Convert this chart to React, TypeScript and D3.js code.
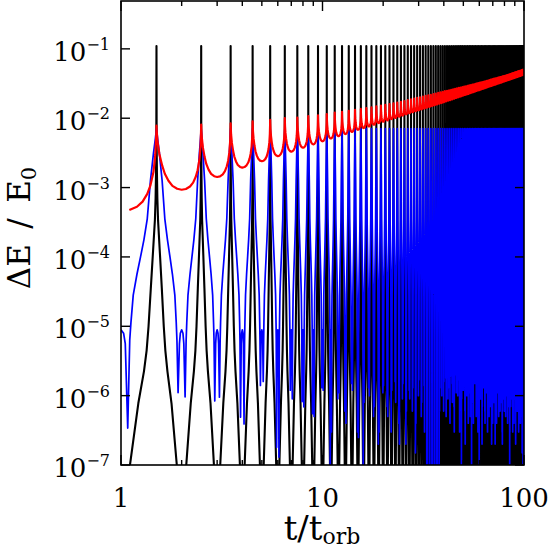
import React from 'react';
import * as d3 from 'd3';

const W = 548;
const H = 550;

// axis ticks
const xMajorTicks = [1, 10, 100];
const xMinorTicks = [2, 3, 4, 5, 6, 7, 8, 9, 20, 30, 40, 50, 60, 70, 80, 90];
const yExponents = [-1, -2, -3, -4, -5, -6, -7];

// integer times (midway between the energy spikes at 1.5, 2.5, ... 99.5)
const midTimes = d3.range(1, 101, 1);

// black: one orbit profile, offset from the mid time, log10(dE/E0)
const blackU = [0, 0.108, 0.219, 0.3, 0.34, 0.37, 0.406, 0.44, 0.473, 0.485, 0.492, 0.497, 0.5];
const blackLogProfile = [-8.0, -7.0, -6.11, -5.65, -5.35, -5.0, -4.45, -3.95, -3.47, -3.15, -2.8, -2.4, -0.96];

// blue: one orbit profile (null = the dip, read per orbit below)
const blueU = [0, 0.03, 0.05, 0.08, 0.105, 0.12, 0.15, 0.2, 0.25, 0.3, 0.35, 0.4, 0.45, 0.48, 0.5];
const blueLogProfile = [-5.05, -5.1, -5.25, null, -5.2, -4.95, -4.55, -4.25, -4.0, -3.75, -3.45, -2.9, -2.5, -2.3, -2.15];

// blue dips just before (t = k - 0.08) and after (t = k + 0.08) each integer k = 1..100
const blueDipBefore = [
  null, 1.1e-6, 8.4e-7, 4.9e-7, 1.4e-6, 1.8e-7, 1.2e-6, 8.2e-7, 5.5e-7, 1.3e-6,
  5e-8, 9e-7, 6e-7, 1.5e-6, 3e-7, 5e-8, 1.3e-6, 5e-7, 2e-7, 1.1e-6,
  7e-7, 3e-7, 1.6e-6, 4e-7, 9e-7, 2e-7, 1.2e-6, 6e-7, 1.5e-7, 1e-6,
  5e-7, 1.4e-6, 8e-8, 6e-8, 9e-8, 5e-8, 7e-8, 5e-8, 1.3e-6, 6e-7,
  1.8e-6, 9e-7, 4e-7, 1.5e-6, 7e-7, 2e-6, 1e-6, 3e-7, 5e-8, 1.2e-6,
  6e-7, 1.6e-6, 4e-7, 1.1e-6, 5e-8, 8e-7, 1.7e-6, 5e-7, 1.3e-6, 5e-8,
  9e-7, 2e-7, 1.5e-6, 6e-7, 1.1e-6, 3e-7, 1.8e-6, 7e-7, 1.2e-6, 4e-7,
  1.6e-6, 2e-7, 9e-7, 1.4e-6, 5e-7, 1.9e-6, 8e-7, 3e-7, 1.3e-6, 6e-7,
  1.5e-6, 1e-6, 4e-7, 1.7e-6, 5e-8, 7e-7, 1.2e-6, 3e-7, 1.6e-6, 9e-7,
  2e-7, 1.4e-6, 6e-7, 1.1e-6, 1.8e-6, 4e-7, 1e-6, 1.5e-7, 5e-8, 1.3e-6,
];
const blueDipAfter = [
  3.4e-7, 9.6e-7, 9.5e-7, 3.9e-7, 1.6e-6, 1.3e-7, 9e-7, 6.9e-7, 5e-7, 1.2e-6,
  3e-7, 1.1e-6, 4e-7, 1.2e-6, 2.5e-7, 8e-7, 1e-6, 7e-7, 3e-7, 1.4e-6,
  5e-7, 1.2e-6, 8e-7, 2e-7, 1.5e-6, 6e-7, 9e-7, 1.3e-6, 4e-7, 1.7e-6,
  8e-7, 3e-7, 7e-8, 5e-8, 6e-8, 8e-8, 5e-8, 6e-7, 1e-6, 1.6e-6,
  5e-7, 1.3e-6, 1.9e-6, 8e-7, 3e-7, 1.1e-6, 1.7e-6, 6e-7, 9e-7, 1.4e-6,
  2e-7, 1e-6, 1.8e-6, 5e-7, 1.2e-6, 4e-7, 1.5e-6, 9e-7, 3e-7, 1.1e-6,
  1.9e-6, 7e-7, 1.3e-6, 4e-7, 1.6e-6, 1e-6, 5e-7, 1.4e-6, 2e-7, 1.2e-6,
  8e-7, 1.7e-6, 4e-7, 1.1e-6, 1.5e-6, 6e-7, 1.3e-6, 2e-7, 9e-7, 1.8e-6,
  5e-7, 1.2e-6, 1.6e-6, 7e-7, 3e-7, 1.4e-6, 9e-7, 1.9e-6, 4e-7, 1.1e-6,
  1.5e-6, 6e-7, 1.3e-6, 3e-7, 1e-6, 1.7e-6, 5e-7, 1.2e-6, 8e-7, null,
];

// red: cusp heights at each spike time (1.5 .. 99.5)
const redPeaks = [
  7.8e-3, 8.1e-3, 8.4e-3, 9.0e-3, 9.5e-3, 1.0e-2, 1.02e-2, 1.07e-2, 1.1e-2, 1.15e-2,
  1.2e-2, 1.24e-2, 1.28e-2, 1.32e-2, 1.36e-2, 1.4e-2, 1.44e-2, 1.48e-2, 1.52e-2, 1.56e-2,
  1.6e-2, 1.64e-2, 1.68e-2, 1.72e-2, 1.77e-2, 1.82e-2, 1.87e-2, 1.92e-2, 1.96e-2, 2.0e-2,
  2.05e-2, 2.1e-2, 2.14e-2, 2.18e-2, 2.22e-2, 2.27e-2, 2.32e-2, 2.36e-2, 2.4e-2, 2.45e-2,
  2.49e-2, 2.53e-2, 2.57e-2, 2.61e-2, 2.65e-2, 2.69e-2, 2.73e-2, 2.77e-2, 2.81e-2, 2.85e-2,
  2.89e-2, 2.93e-2, 2.97e-2, 3.01e-2, 3.05e-2, 3.09e-2, 3.13e-2, 3.17e-2, 3.21e-2, 3.25e-2,
  3.29e-2, 3.33e-2, 3.37e-2, 3.41e-2, 3.45e-2, 3.5e-2, 3.55e-2, 3.6e-2, 3.64e-2, 3.68e-2,
  3.72e-2, 3.76e-2, 3.8e-2, 3.84e-2, 3.88e-2, 3.92e-2, 3.96e-2, 4.0e-2, 4.04e-2, 4.08e-2,
  4.12e-2, 4.17e-2, 4.22e-2, 4.27e-2, 4.32e-2, 4.37e-2, 4.42e-2, 4.47e-2, 4.52e-2, 4.57e-2,
  4.62e-2, 4.67e-2, 4.72e-2, 4.77e-2, 4.82e-2, 4.87e-2, 4.92e-2, 4.97e-2, 5.02e-2,
];
// red: minima between cusps, at t = 1 .. 100
const redMins = [
  4.6e-4, 9.3e-4, 1.42e-3, 1.94e-3, 2.4e-3, 2.84e-3, 3.3e-3, 3.75e-3, 4.2e-3, 4.65e-3,
  5.1e-3, 5.5e-3, 5.9e-3, 6.35e-3, 6.8e-3, 7.2e-3, 7.6e-3, 8.05e-3, 8.5e-3, 8.9e-3,
  9.3e-3, 9.7e-3, 1.01e-2, 1.05e-2, 1.09e-2, 1.14e-2, 1.18e-2, 1.22e-2, 1.26e-2, 1.3e-2,
  1.34e-2, 1.38e-2, 1.42e-2, 1.46e-2, 1.5e-2, 1.54e-2, 1.58e-2, 1.62e-2, 1.66e-2, 1.7e-2,
  1.75e-2, 1.79e-2, 1.83e-2, 1.87e-2, 1.91e-2, 1.96e-2, 2.0e-2, 2.04e-2, 2.08e-2, 2.13e-2,
  2.17e-2, 2.21e-2, 2.25e-2, 2.3e-2, 2.34e-2, 2.38e-2, 2.42e-2, 2.47e-2, 2.51e-2, 2.55e-2,
  2.59e-2, 2.64e-2, 2.68e-2, 2.72e-2, 2.76e-2, 2.81e-2, 2.85e-2, 2.89e-2, 2.93e-2, 2.98e-2,
  3.02e-2, 3.06e-2, 3.1e-2, 3.15e-2, 3.19e-2, 3.23e-2, 3.27e-2, 3.32e-2, 3.36e-2, 3.4e-2,
  3.44e-2, 3.49e-2, 3.53e-2, 3.57e-2, 3.61e-2, 3.66e-2, 3.7e-2, 3.74e-2, 3.78e-2, 3.83e-2,
  3.87e-2, 3.91e-2, 3.96e-2, 4.0e-2, 4.04e-2, 4.09e-2, 4.13e-2, 4.17e-2, 4.22e-2, 4.26e-2,
];
// red cusp shape: distance from spike -> fraction of the (log) rise from minimum to cusp
const redD = [0, 0.005, 0.02, 0.05, 0.1, 0.15, 0.22, 0.3, 0.4, 0.5];
const redAfterFrac = [1, 0.9, 0.74, 0.56, 0.38, 0.25, 0.14, 0.06, 0.015, 0];
const redBeforeFrac = [1, 0.88, 0.66, 0.46, 0.3, 0.2, 0.11, 0.05, 0.012, 0];

const M = { left: 121, right: 524, top: 1, bottom: 465 };

const x = d3.scaleLog().domain([1, 100]).range([M.left, M.right]);
const y = d3.scaleLog().domain([1e-7, Math.pow(10, -0.31)]).range([M.bottom, M.top]);

type P = [number, number];
type Prof = { u: number; v: any; side: number };

function mirrored(u: number[], v: any[]): Prof[] {
  const out: Prof[] = [];
  for (let i = u.length - 1; i >= 1; i--) out.push({ u: -u[i], v: v[i], side: -1 });
  out.push({ u: u[0], v: v[0], side: 0 });
  for (let i = 1; i < u.length; i++) out.push({ u: u[i], v: v[i], side: 1 });
  return out;
}

function build(prof: Prof[], val: (k: number, p: Prof) => number | null): P[] {
  const pts: P[] = [];
  midTimes.forEach((k) => {
    prof.forEach((p) => {
      const t = k + p.u;
      if (t < 1 - 1e-9 || t > 100 + 1e-9) return;
      if (k > 1 && p.u === -0.5) return;
      const v = val(k, p);
      if (v == null) return;
      pts.push([t, v]);
    });
  });
  return pts;
}

const blackPts = build(mirrored(blackU, blackLogProfile), (_k, p) => Math.pow(10, p.v));

const bluePts = build(mirrored(blueU, blueLogProfile), (k, p) => {
  if (p.v === null) {
    return p.side < 0 ? blueDipBefore[k - 1] : blueDipAfter[k - 1];
  }
  return Math.pow(10, p.v);
});

const redProfile: Prof[] = (() => {
  const out: Prof[] = [];
  for (let i = 0; i < redD.length; i++) out.push({ u: -0.5 + redD[i], v: redAfterFrac[i], side: -1 });
  for (let i = redD.length - 2; i >= 0; i--) out.push({ u: 0.5 - redD[i], v: redBeforeFrac[i], side: 1 });
  return out;
})();

const redPts = build(redProfile, (k, p) => {
  const m = Math.log10(redMins[k - 1]);
  const peakIdx = p.side < 0 ? k - 2 : k - 1;
  if (peakIdx < 0 || peakIdx >= redPeaks.length) return null;
  const pk = Math.log10(redPeaks[peakIdx]);
  return Math.pow(10, m + p.v * (pk - m));
});

const line = d3
  .line<P>()
  .x((d) => x(d[0]))
  .y((d) => y(Math.max(d[1], 1e-12)));

const FONT = "'DejaVu Serif', 'Liberation Serif', serif";

export default function App() {
  return (
    <svg
      width={W}
      height={H}
      viewBox={`0 0 ${W} ${H}`}
      style={{ position: 'absolute', left: 0, top: 0, background: '#fff' }}
    >
      <defs>
        <clipPath id="plot">
          <rect x={M.left} y={M.top} width={M.right - M.left} height={M.bottom - M.top} />
        </clipPath>
      </defs>
      <rect x={0} y={0} width={W} height={H} fill="#fff" />
      <g clipPath="url(#plot)" fill="none" strokeLinejoin="round">
        <path d={line(blackPts) || ''} stroke="#000" strokeWidth={2.1} />
        <path d={line(bluePts) || ''} stroke="#0000ff" strokeWidth={1.7} />
        <path d={line(redPts) || ''} stroke="#ff0000" strokeWidth={2.2} />
      </g>

      {/* frame */}
      <rect
        x={M.left}
        y={M.top}
        width={M.right - M.left}
        height={M.bottom - M.top}
        fill="none"
        stroke="#000"
        strokeWidth={1.6}
      />
      {/* x ticks (top and bottom) */}
      {xMajorTicks.map((t) => (
        <g key={'xM' + t}>
          <line x1={x(t)} x2={x(t)} y1={M.bottom} y2={M.bottom - 10} stroke="#000" strokeWidth={1.4} />
          <line x1={x(t)} x2={x(t)} y1={M.top} y2={M.top + 10} stroke="#000" strokeWidth={1.4} />
        </g>
      ))}
      {xMinorTicks.map((t) => (
        <g key={'xm' + t}>
          <line x1={x(t)} x2={x(t)} y1={M.bottom} y2={M.bottom - 5} stroke="#000" strokeWidth={1.4} />
          <line x1={x(t)} x2={x(t)} y1={M.top} y2={M.top + 5} stroke="#000" strokeWidth={1.4} />
        </g>
      ))}
      {/* y ticks */}
      {yExponents.map((e) => {
        const yy = y(Math.pow(10, e));
        return (
          <g key={'y' + e}>
            <line x1={M.left} x2={M.left + 9} y1={yy} y2={yy} stroke="#000" strokeWidth={1.4} />
            <line x1={M.right} x2={M.right - 9} y1={yy} y2={yy} stroke="#000" strokeWidth={1.4} />
            <text x={110} y={yy + 12} textAnchor="end" fontFamily={FONT} fontSize={26} fill="#000">
              10
              <tspan dy={-11} fontSize={16}>
                {'\u2212' + String(-e)}
              </tspan>
            </text>
          </g>
        );
      })}
      {/* x tick labels */}
      {xMajorTicks.map((t) => (
        <text key={'xl' + t} x={x(t)} y={507} textAnchor="middle" fontFamily={FONT} fontSize={26} fill="#000">
          {String(t)}
        </text>
      ))}
      {/* axis titles */}
      <text x={322} y={540} textAnchor="middle" fontFamily={FONT} fontSize={34} fill="#000">
        t/t
        <tspan dy={4} fontSize={22}>
          orb
        </tspan>
      </text>
      <text
        transform="translate(30,228) rotate(-90)"
        textAnchor="middle"
        fontFamily={FONT}
        fontSize={31}
        fill="#000"
      >
        {'\u0394E\u2002/\u2002E'}
        <tspan dy={6} fontSize={21}>
          0
        </tspan>
      </text>
    </svg>
  );
}
